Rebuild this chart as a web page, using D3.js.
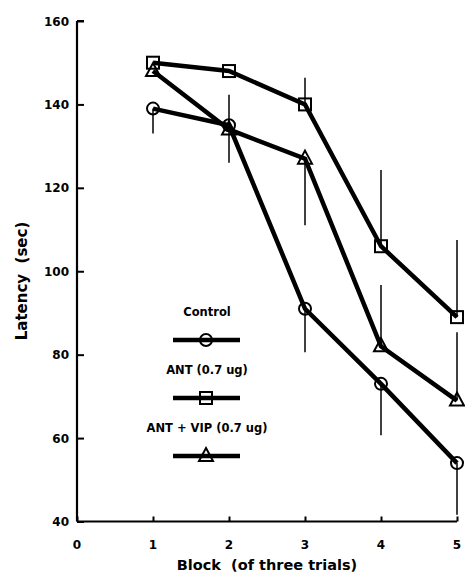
<!DOCTYPE html>
<html><head><meta charset="utf-8">
<script src="https://cdn.jsdelivr.net/npm/d3@7"></script>
<style>body{margin:0;background:#fff}svg{display:block}text{font-family:"DejaVu Sans",sans-serif;font-weight:bold;fill:#000}</style>
</head><body>
<script>
const blocks = [1, 2, 3, 4, 5];
const xTicks = [0, 1, 2, 3, 4, 5];
const yTicks = [40, 60, 80, 100, 120, 140, 160];
const seriesNames = ["Control", "ANT (0.7 ug)", "ANT + VIP (0.7 ug)"];
const controlValues = [139, 135, 91, 73, 54];
const antValues = [150, 148, 140, 106, 89];
const antVipValues = [148, 134, 127, 82, 69];
const controlErrEnd = [133, 126, 80.6, 60.7, 41.6];
const antErrEnd = [150, 148, 146.4, 124.3, 107.5];
const antVipErrEnd = [148, 142.3, 111, 96.7, 85.4];

const W = 465, H = 577;
const svg = d3.select("body").append("svg").attr("width", W).attr("height", H);
const x = d3.scaleLinear().domain([0, 5]).range([77, 457]);
const y = d3.scaleLinear().domain([40, 160]).range([521.5, 21]);

// axes
const yAxis = svg.append("g").attr("transform", `translate(${x(0)},0)`)
  .call(d3.axisRight(y).tickValues(yTicks).tickSize(7).tickFormat(""));
const xAxis = svg.append("g").attr("transform", `translate(0,${y(40)})`)
  .call(d3.axisTop(x).tickValues(xTicks).tickSize(5).tickFormat(""));
[yAxis, xAxis].forEach(g => {
  g.select(".domain").attr("stroke", "#000").attr("stroke-width", 2.2);
  g.selectAll(".tick line").attr("stroke", "#000").attr("stroke-width", 2);
});
yAxis.select(".domain").attr("d", `M0,${y(160)}H7M0,${y(160)}V${y(40)}`);
xAxis.select(".domain").attr("d", `M${x(0)},0H${x(5)}`);

svg.selectAll(".ylab").data(yTicks).join("text")
  .attr("x", 69).attr("y", d => y(d) + 4.5).attr("text-anchor", "end")
  .attr("font-size", 12).text(d => d);
svg.selectAll(".xlab").data(xTicks).join("text")
  .attr("x", d => x(d)).attr("y", 549).attr("text-anchor", "middle")
  .attr("font-size", 12).text(d => d);

svg.append("text").attr("x", 267).attr("y", 570).attr("text-anchor", "middle")
  .attr("font-size", 14.5).attr("xml:space", "preserve").text("Block  (of three trials)");
svg.append("text").attr("transform", "translate(27,281) rotate(-90)").attr("text-anchor", "middle")
  .attr("font-size", 15).attr("xml:space", "preserve").text("Latency  (sec)");

const series = [
  {name: seriesNames[0], values: controlValues, err: controlErrEnd, shape: "circle"},
  {name: seriesNames[1], values: antValues, err: antErrEnd, shape: "square"},
  {name: seriesNames[2], values: antVipValues, err: antVipErrEnd, shape: "triangle"}
];

function marker(g, shape, cx, cy) {
  if (shape === "circle") {
    g.append("circle").attr("cx", cx).attr("cy", cy).attr("r", 6)
      .attr("fill", "none").attr("stroke", "#000").attr("stroke-width", 2);
  } else if (shape === "square") {
    g.append("rect").attr("x", cx - 6).attr("y", cy - 6).attr("width", 12).attr("height", 12)
      .attr("fill", "none").attr("stroke", "#000").attr("stroke-width", 2);
  } else {
    g.append("path").attr("d", `M${cx},${cy - 8}L${cx + 7},${cy + 5}L${cx - 7},${cy + 5}Z`)
      .attr("fill", "none").attr("stroke", "#000").attr("stroke-width", 2);
  }
}

const line = d3.line().x((d, i) => x(blocks[i])).y(d => y(d));
series.forEach(s => {
  const g = svg.append("g");
  g.selectAll("line.err").data(s.values).join("line")
    .attr("x1", (d, i) => x(blocks[i])).attr("x2", (d, i) => x(blocks[i]))
    .attr("y1", d => y(d)).attr("y2", (d, i) => y(s.err[i]))
    .attr("stroke", "#000").attr("stroke-width", 1.5);
  g.append("path").datum(s.values).attr("d", line)
    .attr("fill", "none").attr("stroke", "#000").attr("stroke-width", 4.5);
  s.values.forEach((v, i) => marker(g, s.shape, x(blocks[i]), y(v)));
});

// legend
const legY = [312, 370, 428];
series.forEach((s, i) => {
  svg.append("text").attr("x", 207).attr("y", legY[i] + 4).attr("text-anchor", "middle")
    .attr("font-size", 11.5).text(s.name);
  const ly = legY[i] + 28;
  svg.append("line").attr("x1", 173).attr("x2", 240).attr("y1", ly).attr("y2", ly)
    .attr("stroke", "#000").attr("stroke-width", 4.5);
  marker(svg, s.shape, 206, ly);
});
</script>
</body></html>
